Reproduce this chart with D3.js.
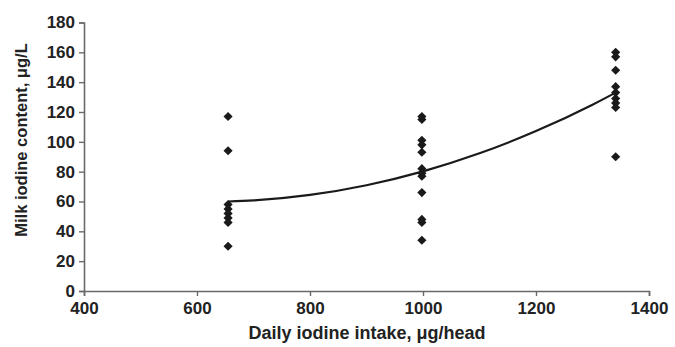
<!DOCTYPE html>
<html><head><meta charset="utf-8">
<script src="https://cdn.jsdelivr.net/npm/d3@7"></script>
<style>
html,body{margin:0;padding:0;background:#fff;}
svg{display:block;}
text{font-family:"Liberation Sans",Arial,sans-serif;font-weight:bold;fill:#222;}
</style></head>
<body>
<svg id="chart" width="675" height="347"></svg>
<script>
// Observed data: daily iodine intake groups and milk iodine content
const intakeGroups = [655, 998, 1341];
const milkGroup1 = [117, 94, 58, 55, 52, 49, 46, 30];
const milkGroup2 = [117, 115, 101, 98, 93, 82, 79, 77, 66, 48, 46, 34];
const milkGroup3 = [160, 157, 148, 137, 133, 129, 126, 123, 90];
// Trend curve
const trendX = [655, 700, 800, 900, 1000, 1100, 1200, 1300, 1341];
const trendY = [60, 60.7, 64.4, 70.9, 80.2, 92.3, 107.2, 124.9, 133];
const xTicks = [400, 600, 800, 1000, 1200, 1400];
const yTicks = [0, 20, 40, 60, 80, 100, 120, 140, 160, 180];

const svg = d3.select("#chart");
const x = d3.scaleLinear().domain([400, 1400]).range([84, 649]);
const y = d3.scaleLinear().domain([0, 180]).range([291, 22.5]);

const axisColor = "#6a6a6a";

const xAxis = svg.append("g").attr("transform", "translate(0,291)")
  .call(d3.axisBottom(x).tickValues(xTicks).tickSize(5).tickPadding(6).tickFormat(d3.format("d")));
const yAxis = svg.append("g").attr("transform", "translate(84,0)")
  .call(d3.axisLeft(y).tickValues(yTicks).tickSize(5).tickPadding(4).tickFormat(d3.format("d")));
[xAxis, yAxis].forEach(g => {
  g.select(".domain").attr("stroke", axisColor).attr("stroke-width", 1.6);
  g.selectAll(".tick line").attr("stroke", axisColor).attr("stroke-width", 1.4);
  g.selectAll(".tick text").attr("fill", "#222").style("font-size", "17px")
    .style("font-family", '"Liberation Sans",Arial,sans-serif').style("font-weight", "bold");
});

// trend line
const pts = trendX.map((d, i) => [d, trendY[i]]);
svg.append("path").datum(pts)
  .attr("fill", "none").attr("stroke", "#1a1a1a").attr("stroke-width", 2.2)
  .attr("d", d3.line().x(d => x(d[0])).y(d => y(d[1])).curve(d3.curveMonotoneX));

// points
const groups = [milkGroup1, milkGroup2, milkGroup3];
const points = [];
groups.forEach((vals, gi) => vals.forEach(v => points.push([intakeGroups[gi], v])));
const sym = d3.symbol().type(d3.symbolSquare).size(42);
svg.append("g").selectAll("path").data(points).join("path")
  .attr("d", sym)
  .attr("fill", "#1a1a1a")
  .attr("transform", d => `translate(${x(d[0])},${y(d[1])}) rotate(45)`);

// axis titles
svg.append("text").attr("x", 367).attr("y", 339).attr("text-anchor", "middle")
  .style("font-size", "18px").text("Daily iodine intake, μg/head");
svg.append("text").attr("transform", "translate(27,140) rotate(-90)").attr("text-anchor", "middle")
  .style("font-size", "16.5px").text("Milk iodine content, μg/L");
</script>
</body></html>
